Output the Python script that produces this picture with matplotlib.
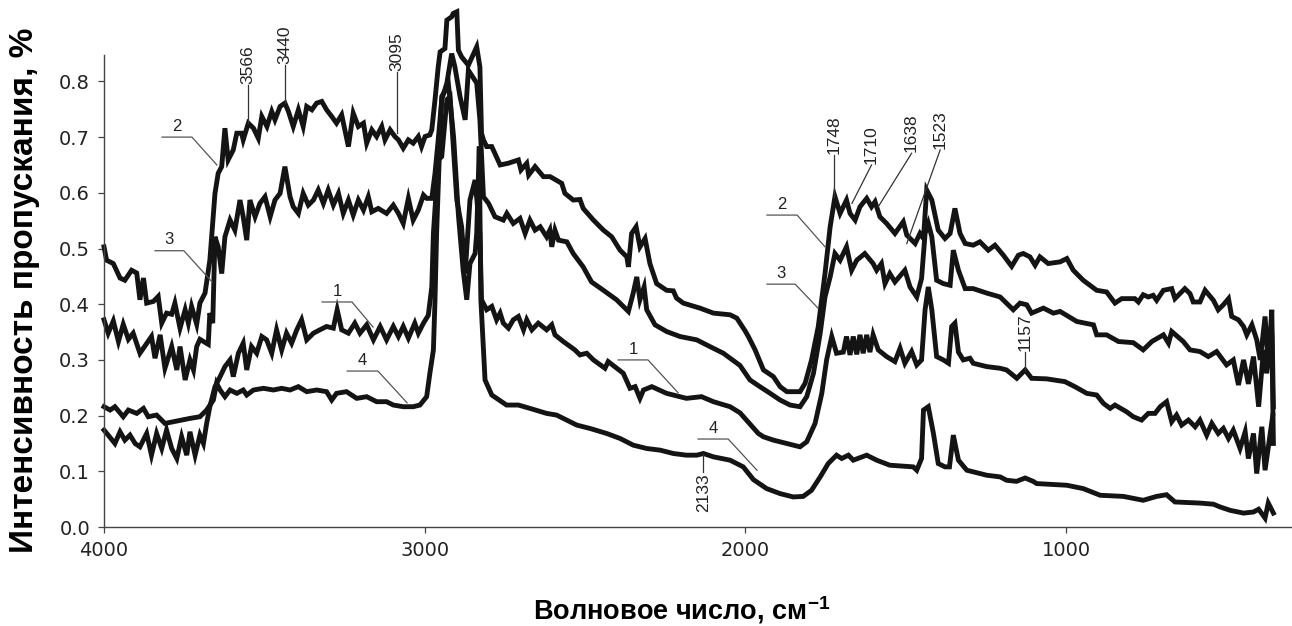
import matplotlib
matplotlib.use("Agg")
import matplotlib.pyplot as plt
from matplotlib import font_manager

# IR spectra, curves 1-4 (wavenumber, cm-1 / transmission)
x1 = [4000, 3987, 3966, 3950, 3935, 3919, 3903, 3888, 3867, 3852, 3836, 3820, 3805, 3789, 3773, 3758, 3742, 3732,
      3716, 3701, 3690, 3680, 3670, 3654, 3638, 3623, 3607, 3597, 3581, 3566, 3555, 3540, 3524, 3508, 3493, 3477,
      3462, 3446, 3431, 3415, 3399, 3384, 3368, 3347, 3327, 3306, 3285, 3273, 3259, 3238, 3218, 3202, 3181, 3160,
      3139, 3119, 3098, 3082, 3067, 3051, 3031, 3020, 3004, 2989, 2978, 2973, 2958, 2947, 2931, 2921, 2900, 2885,
      2874, 2859, 2843, 2828, 2823, 2807, 2791, 2776, 2765, 2755, 2739, 2724, 2708, 2692, 2682, 2666, 2646, 2620,
      2604, 2594, 2568, 2532, 2516, 2495, 2474, 2438, 2428, 2381, 2360, 2344, 2329, 2318, 2292, 2246, 2184, 2137,
      2100, 2048, 2017, 1986, 1960, 1944, 1913, 1871, 1830, 1809, 1783, 1762, 1747, 1731, 1716, 1695, 1685, 1674,
      1664, 1653, 1643, 1633, 1622, 1612, 1602, 1586, 1560, 1534, 1518, 1503, 1482, 1466, 1451, 1440, 1430, 1419,
      1404, 1383, 1367, 1357, 1347, 1336, 1321, 1300, 1290, 1248, 1206, 1186, 1154, 1128, 1108, 1061, 1004, 973,
      936, 905, 884, 863, 848, 812, 791, 765, 744, 723, 707, 687, 671, 656, 640, 619, 598, 583, 562, 546, 526, 510,
      494, 479, 458, 442, 432, 416, 406, 390, 380, 364, 356]
y1 = [.174, .165, .150, .171, .156, .165, .150, .144, .168, .129, .168, .141, .174, .141, .123, .162, .129, .171,
      .129, .165, .150, .186, .216, .252, .270, .288, .300, .270, .312, .330, .282, .324, .312, .342, .336, .312,
      .354, .318, .348, .330, .354, .372, .336, .348, .354, .360, .357, .390, .354, .348, .366, .348, .363, .336,
      .360, .336, .360, .342, .360, .339, .366, .348, .366, .380, .431, .527, .659, .665, .767, .773, .587, .539,
      .455, .587, .623, .527, .408, .390, .396, .372, .384, .366, .357, .372, .378, .354, .372, .354, .366, .354,
      .363, .345, .333, .318, .309, .312, .300, .285, .297, .276, .249, .252, .231, .246, .252, .240, .231, .234,
      .225, .216, .205, .185, .168, .162, .156, .150, .144, .153, .186, .240, .300, .342, .312, .314, .342, .309,
      .342, .310, .345, .312, .345, .314, .345, .318, .306, .297, .321, .294, .315, .291, .300, .390, .431, .390,
      .306, .300, .294, .360, .366, .314, .300, .303, .294, .288, .285, .282, .267, .282, .267, .266, .261, .252,
      .240, .237, .222, .213, .219, .207, .198, .192, .204, .204, .216, .225, .189, .201, .183, .192, .180, .192,
      .165, .186, .168, .177, .159, .174, .141, .171, .123, .168, .096, .180, .102, .168, .200]

x2 = [4000, 3992, 3971, 3950, 3935, 3914, 3898, 3888, 3877, 3867, 3846, 3831, 3820, 3805, 3789, 3779, 3763, 3747,
      3737, 3727, 3711, 3701, 3685, 3670, 3654, 3644, 3633, 3623, 3613, 3597, 3586, 3571, 3566, 3550, 3534, 3519,
      3508, 3492, 3477, 3467, 3451, 3436, 3425, 3410, 3394, 3379, 3368, 3352, 3337, 3321, 3306, 3290, 3275, 3259,
      3238, 3223, 3207, 3191, 3181, 3165, 3150, 3134, 3124, 3108, 3093, 3082, 3067, 3051, 3036, 3020, 3010, 2999,
      2984, 2978, 2968, 2958, 2952, 2937, 2931, 2916, 2911, 2900, 2895, 2885, 2864, 2838, 2828, 2823, 2817, 2807,
      2791, 2765, 2740, 2708, 2700, 2682, 2676, 2656, 2630, 2609, 2573, 2563, 2537, 2516, 2506, 2474, 2443, 2417,
      2391, 2370, 2365, 2355, 2341, 2329, 2313, 2298, 2277, 2246, 2225, 2215, 2194, 2142, 2100, 2048, 2027, 2001,
      1991, 1970, 1944, 1913, 1892, 1871, 1830, 1814, 1794, 1773, 1752, 1736, 1721, 1705, 1685, 1674, 1658, 1643,
      1622, 1607, 1596, 1581, 1560, 1534, 1508, 1497, 1471, 1456, 1445, 1435, 1419, 1399, 1378, 1362, 1347, 1331,
      1315, 1290, 1269, 1243, 1222, 1196, 1170, 1149, 1134, 1113, 1097, 1082, 1056, 1019, 998, 978, 947, 905, 874,
      848, 827, 786, 775, 760, 744, 729, 718, 697, 671, 661, 630, 614, 604, 583, 567, 541, 526, 510, 494, 484, 463,
      447, 437, 421, 406, 395, 380, 370, 359, 354]
y2 = [.503, .479, .473, .447, .443, .461, .456, .408, .447, .402, .405, .414, .366, .384, .382, .402, .357, .390,
      .366, .396, .364, .402, .420, .479, .599, .635, .647, .716, .659, .677, .707, .707, .695, .725, .716, .698,
      .737, .719, .746, .731, .755, .761, .746, .719, .749, .719, .755, .749, .761, .764, .749, .737, .725, .740,
      .683, .743, .719, .725, .689, .713, .701, .719, .695, .713, .701, .695, .680, .695, .689, .701, .683, .701,
      .704, .713, .767, .826, .853, .859, .910, .916, .922, .925, .856, .844, .829, .862, .826, .707, .695, .683,
      .683, .650, .653, .659, .641, .653, .632, .647, .629, .629, .617, .599, .587, .588, .572, .551, .533, .521,
      .497, .485, .467, .527, .539, .503, .518, .473, .437, .425, .424, .411, .402, .393, .384, .381, .375, .352,
      .342, .318, .282, .270, .252, .243, .243, .258, .300, .360, .455, .539, .593, .563, .587, .563, .551, .575,
      .590, .575, .584, .557, .545, .527, .548, .524, .509, .527, .518, .605, .587, .533, .518, .527, .572, .527,
      .509, .506, .512, .497, .506, .488, .468, .488, .491, .485, .470, .485, .473, .476, .482, .461, .443, .425, .422,
      .402, .410, .410, .404, .417, .413, .416, .407, .425, .428, .410, .428, .419, .404, .404, .425, .407, .390,
      .399, .410, .378, .372, .360, .345, .363, .336, .300, .378, .288, .390, .216]

x3 = [4000, 3987, 3971, 3955, 3940, 3924, 3909, 3888, 3852, 3841, 3825, 3810, 3789, 3773, 3763, 3747, 3732, 3721,
      3711, 3701, 3675, 3670, 3661, 3654, 3644, 3633, 3623, 3607, 3592, 3576, 3566, 3555, 3545, 3529, 3514, 3498,
      3482, 3467, 3451, 3436, 3420, 3410, 3394, 3379, 3363, 3347, 3332, 3316, 3301, 3285, 3269, 3254, 3238, 3223,
      3207, 3191, 3176, 3165, 3145, 3119, 3098, 3082, 3067, 3051, 3036, 3020, 3004, 2994, 2978, 2968, 2958, 2947,
      2931, 2916, 2906, 2890, 2874, 2864, 2838, 2828, 2817, 2801, 2781, 2755, 2744, 2724, 2703, 2687, 2672, 2656,
      2640, 2620, 2610, 2604, 2594, 2583, 2557, 2537, 2506, 2480, 2443, 2402, 2365, 2350, 2339, 2329, 2316, 2308,
      2282, 2246, 2204, 2152, 2111, 2069, 2017, 1986, 1955, 1923, 1892, 1861, 1830, 1809, 1788, 1767, 1752, 1736,
      1721, 1705, 1685, 1669, 1653, 1628, 1602, 1591, 1576, 1565, 1550, 1534, 1503, 1487, 1466, 1451, 1440, 1430,
      1419, 1404, 1383, 1362, 1352, 1336, 1315, 1290, 1248, 1206, 1165, 1144, 1123, 1108, 1071, 1040, 1019, 967,
      915, 905, 874, 837, 791, 760, 733, 697, 681, 671, 635, 614, 583, 557, 531, 500, 479, 463, 447, 432, 416, 400,
      385, 375, 359, 354]
y3 = [.372, .348, .370, .333, .364, .337, .348, .312, .342, .303, .345, .285, .324, .282, .324, .264, .300, .282,
      .324, .337, .328, .384, .366, .521, .503, .455, .521, .551, .533, .587, .557, .515, .587, .557, .581, .593,
      .557, .587, .599, .647, .593, .575, .563, .599, .578, .587, .605, .581, .605, .578, .599, .563, .587, .560,
      .587, .569, .593, .566, .572, .563, .578, .563, .545, .590, .551, .569, .596, .590, .590, .635, .695, .767,
      .797, .850, .826, .773, .731, .820, .797, .731, .593, .581, .557, .551, .563, .545, .554, .527, .551, .533,
      .539, .521, .533, .503, .533, .515, .512, .491, .467, .440, .425, .408, .387, .420, .449, .408, .431, .390,
      .363, .351, .342, .336, .324, .312, .290, .264, .252, .240, .228, .219, .216, .234, .276, .348, .413, .449,
      .491, .479, .503, .461, .479, .491, .473, .461, .473, .437, .455, .440, .461, .431, .413, .446, .527, .545,
      .521, .443, .437, .434, .497, .461, .428, .428, .420, .413, .390, .402, .399, .384, .393, .384, .387, .369,
      .363, .345, .345, .333, .331, .318, .333, .345, .330, .351, .333, .318, .315, .306, .315, .291, .300, .255,
      .300, .257, .306, .216, .318, .276, .348, .150]

x4 = [4000, 3981, 3966, 3940, 3924, 3898, 3877, 3862, 3836, 3810, 3784, 3758, 3732, 3701, 3680, 3659, 3649, 3638,
      3623, 3607, 3586, 3566, 3555, 3534, 3503, 3472, 3446, 3420, 3394, 3368, 3337, 3306, 3290, 3275, 3244, 3212,
      3181, 3150, 3119, 3098, 3067, 3036, 3015, 2994, 2984, 2973, 2968, 2963, 2955, 2947, 2926, 2910, 2895, 2880,
      2869, 2859, 2843, 2838, 2830, 2825, 2817, 2812, 2791, 2745, 2708, 2672, 2620, 2589, 2547, 2526, 2485, 2433,
      2391, 2350, 2308, 2266, 2225, 2184, 2152, 2131, 2100, 2048, 2007, 1975, 1934, 1892, 1851, 1820, 1794, 1767,
      1742, 1716, 1700, 1679, 1664, 1622, 1591, 1550, 1477, 1466, 1451, 1445, 1430, 1414, 1399, 1378, 1364, 1352,
      1336, 1310, 1248, 1206, 1186, 1155, 1128, 1103, 1092, 998, 947, 894, 822, 760, 718, 687, 661, 583, 541, 520,
      489, 447, 416, 400, 380, 370, 354]
y4 = [.216, .210, .216, .198, .210, .204, .213, .198, .201, .186, .189, .192, .195, .198, .210, .228, .258, .246,
      .234, .246, .240, .246, .237, .246, .249, .246, .249, .246, .252, .243, .246, .243, .228, .240, .243, .231,
      .234, .225, .225, .219, .216, .216, .219, .234, .276, .318, .408, .527, .659, .773, .794, .700, .560, .460,
      .408, .473, .491, .527, .683, .408, .318, .264, .237, .219, .219, .213, .204, .201, .189, .183, .177, .168,
      .159, .147, .141, .138, .132, .129, .129, .132, .126, .120, .108, .085, .069, .060, .054, .055, .066, .090,
      .114, .129, .123, .129, .120, .129, .120, .111, .108, .102, .123, .210, .216, .168, .114, .108, .108, .165,
      .120, .102, .093, .090, .084, .082, .088, .082, .078, .075, .069, .057, .055, .048, .055, .058, .045, .043, .041,
      .036, .030, .025, .027, .032, .016, .043, .025]

curves = [(x1, y1), (x2, y2), (x3, y3), (x4, y4)]

# curve number labels: text, leader polyline (x list, y list)
curve_labels = [
    ("2", [3819, 3726, 3648], [0.700, 0.700, 0.650]),
    ("3", [3841, 3751, 3663], [0.496, 0.496, 0.440]),
    ("1", [3320, 3227, 3161], [0.404, 0.404, 0.359]),
    ("4", [3242, 3146, 3055], [0.280, 0.280, 0.223]),
    ("2", [1933, 1839, 1752], [0.560, 0.560, 0.503]),
    ("3", [1933, 1845, 1774], [0.436, 0.436, 0.393]),
    ("1", [2397, 2304, 2210], [0.300, 0.300, 0.241]),
    ("4", [2148, 2054, 1964], [0.158, 0.158, 0.102]),
]

# band labels: text, leader start (on curve), leader end (at text)
band_labels = [
    ("3566", (3550, 0.725), (3550, 0.794)),
    ("3440", (3435, 0.761), (3435, 0.829)),
    ("3095", (3087, 0.707), (3087, 0.817)),
    ("1748", (1724, 0.593), (1724, 0.668)),
    ("1710", (1668, 0.581), (1607, 0.650)),
    ("1638", (1586, 0.575), (1482, 0.671)),
    ("1523", (1497, 0.509), (1393, 0.677)),
    ("1157", (1128, 0.282), (1128, 0.314)),
    ("2133", (2131, 0.132), (2131, 0.099)),
]

names = {f.name for f in font_manager.fontManager.ttflist}
narrow = "Liberation Sans Narrow" if "Liberation Sans Narrow" in names else "Liberation Sans"

fig = plt.figure(figsize=(12.92, 6.26), dpi=100)
ax = fig.add_axes([0.0805, 0.1581, 0.9195, 0.832])

for xs, ys in curves:
    ax.plot(xs, ys, color="#141414", lw=3.5, solid_joinstyle="miter", clip_on=False)

for txt, lx, ly in curve_labels:
    ax.plot(lx, ly, color="#555555", lw=0.9)
    ax.text((lx[0] + lx[1]) / 2, ly[0] + 0.006, txt, ha="center", va="bottom",
            fontsize=12, family="Liberation Sans", color="#222222")

for txt, (xa, ya), (xb, yb) in band_labels:
    ax.plot([xa, xb], [ya, yb], color="#333333", lw=0.9)
    va = "bottom" if yb > ya else "top"
    ax.text(xb, yb + (0.002 if yb > ya else -0.002), txt, rotation=90, ha="center", va=va,
            fontsize=12.5, family=narrow, color="#222222")

ax.set_xlim(4000, 296)
ax.set_ylim(0, 0.935)
ax.set_xticks([4000, 3000, 2000, 1000])
ax.set_yticks([0.0, 0.1, 0.2, 0.3, 0.4, 0.5, 0.6, 0.7, 0.8])
ax.set_yticklabels(["0.0", "0.1", "0.2", "0.3", "0.4", "0.5", "0.6", "0.7", "0.8"])
ax.tick_params(direction="out", length=4, width=0.9, color="#444444", labelsize=14, pad=6)
for lab in ax.get_xticklabels() + ax.get_yticklabels():
    lab.set_family("DejaVu Sans")
    lab.set_color("#222222")

for s in ["top", "right"]:
    ax.spines[s].set_visible(False)
ax.spines["left"].set_bounds(0, 0.848)
for s in ["left", "bottom"]:
    ax.spines[s].set_color("#444444")
    ax.spines[s].set_linewidth(1.0)

fig.text(25 / 1292, 1 - 290 / 626, "Интенсивность пропускания, %", rotation=90,
         ha="center", va="center", fontsize=24, fontweight="bold", family="Liberation Sans")
fig.text(682 / 1292, 1 - 610 / 626, "Волновое число, см$^{\\mathregular{-1}}$",
         ha="center", va="center", fontsize=19.5, fontweight="bold", family=narrow)

fig.savefig("out.png", dpi=100)
